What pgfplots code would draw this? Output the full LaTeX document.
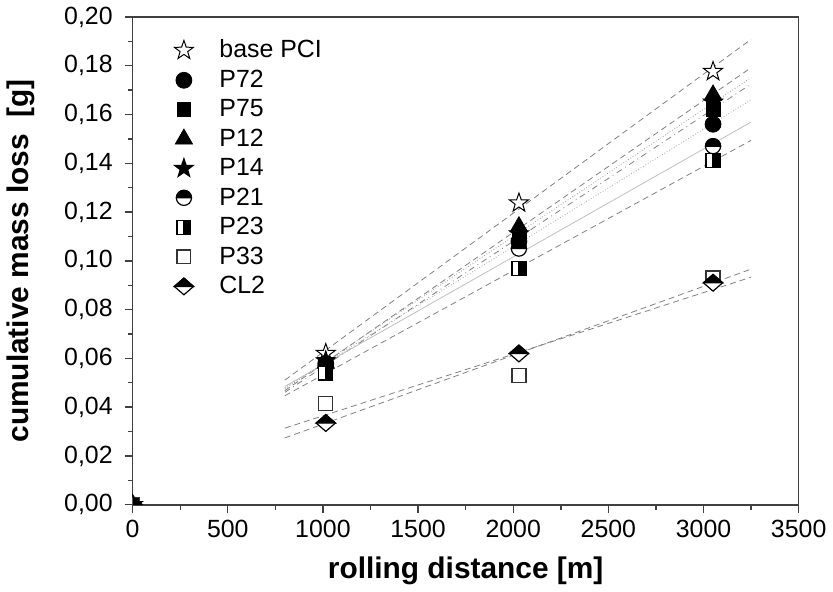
\documentclass[border=0pt]{standalone}
\usepackage{fontspec}
\setmainfont{Liberation Sans}
\usepackage{pgfplots}
\pgfplotsset{compat=1.18}
\usetikzlibrary{plotmarks}

% five-pointed star
\pgfdeclareplotmark{pstar}{%
  \pgfpathmoveto{\pgfpointpolar{90}{1.25\pgfplotmarksize}}%
  \pgfpathlineto{\pgfpointpolar{126}{0.5\pgfplotmarksize}}%
  \pgfpathlineto{\pgfpointpolar{162}{1.25\pgfplotmarksize}}%
  \pgfpathlineto{\pgfpointpolar{198}{0.5\pgfplotmarksize}}%
  \pgfpathlineto{\pgfpointpolar{234}{1.25\pgfplotmarksize}}%
  \pgfpathlineto{\pgfpointpolar{270}{0.5\pgfplotmarksize}}%
  \pgfpathlineto{\pgfpointpolar{306}{1.25\pgfplotmarksize}}%
  \pgfpathlineto{\pgfpointpolar{342}{0.5\pgfplotmarksize}}%
  \pgfpathlineto{\pgfpointpolar{18}{1.25\pgfplotmarksize}}%
  \pgfpathlineto{\pgfpointpolar{54}{0.5\pgfplotmarksize}}%
  \pgfpathclose
  \pgfusepathqfillstroke
}
% half filled marks
\pgfdeclareplotmark{halfcircle}{%
  \pgfsetfillcolor{white}%
  \pgfpathcircle{\pgfpointorigin}{\pgfplotmarksize}%
  \pgfusepathqfillstroke
  \pgfsetfillcolor{black}%
  \pgfpathmoveto{\pgfqpoint{\pgfplotmarksize}{0pt}}%
  \pgfpatharc{0}{180}{\pgfplotmarksize}%
  \pgfpathclose
  \pgfusepathqfillstroke
}
\pgfdeclareplotmark{halfsquare}{%
  \pgfsetfillcolor{white}%
  \pgfpathrectanglecorners{\pgfqpoint{-\pgfplotmarksize}{-\pgfplotmarksize}}{\pgfqpoint{\pgfplotmarksize}{\pgfplotmarksize}}%
  \pgfusepathqfillstroke
  \pgfsetfillcolor{black}%
  \pgfpathrectanglecorners{\pgfqpoint{0pt}{-\pgfplotmarksize}}{\pgfqpoint{\pgfplotmarksize}{\pgfplotmarksize}}%
  \pgfusepathqfillstroke
}
\pgfdeclareplotmark{halfdiamond}{%
  \pgfsetfillcolor{white}%
  \pgfpathmoveto{\pgfqpoint{1.15\pgfplotmarksize}{0pt}}%
  \pgfpathlineto{\pgfqpoint{0pt}{\pgfplotmarksize}}%
  \pgfpathlineto{\pgfqpoint{-1.15\pgfplotmarksize}{0pt}}%
  \pgfpathlineto{\pgfqpoint{0pt}{-\pgfplotmarksize}}%
  \pgfpathclose
  \pgfusepathqfillstroke
  \pgfsetfillcolor{black}%
  \pgfpathmoveto{\pgfqpoint{1.15\pgfplotmarksize}{0pt}}%
  \pgfpathlineto{\pgfqpoint{0pt}{\pgfplotmarksize}}%
  \pgfpathlineto{\pgfqpoint{-1.15\pgfplotmarksize}{0pt}}%
  \pgfpathclose
  \pgfusepathqfillstroke
}

\begin{document}
\begin{tikzpicture}
  \begin{axis}[
    width = 334.5pt,
    height = 245pt,
    scale only axis,
    xmin=0, xmax=3500, ymin=0, ymax=0.2,
    xtick={0,500,...,3500},
    ytick={0,0.02,...,0.2},
    minor tick num=1,
    xtick pos=left, ytick pos=left,
    tick align=outside,
    major tick length=4pt,
    minor tick length=2.5pt,
    axis line style={line width=0.8pt, black!75},
    every tick/.style={line width=0.7pt, black!75},
    clip marker paths=true,
    x tick label style={/pgf/number format/1000 sep={}},
    y tick label style={xshift=-2.5pt, /pgf/number format/.cd, fixed, fixed zerofill, precision=2, use comma},
    /pgf/number format/assume math mode=true,
    tick label style={font=\fontsize{12.5}{14}\selectfont},
    xlabel = {\textbf{rolling distance [m]}},
    ylabel = {\textbf{cumulative mass loss\ \ [g]}},
    label style={font=\fontsize{15}{18}\selectfont},
    xlabel style={yshift=-3pt},
    ylabel style={yshift=8pt},
    legend style={draw=none, fill=none, at={(0.053,0.97)}, anchor=north west,
      font=\fontsize{12.5}{14}\selectfont, row sep=0.6pt},
    legend cell align=left,
    /tikz/every odd column/.append style={column sep=11pt},
  ]

  % linear fits (end points read off the picture)
  \addplot[forget plot, gray, densely dashed, thin] coordinates {(800,0.0511) (3250,0.1908)};
  \addplot[forget plot, gray!70, densely dotted, thin] coordinates {(800,0.0480) (3250,0.1660)};
  \addplot[forget plot, gray, dash dot, thin] coordinates {(800,0.0461) (3250,0.1725)};
  \addplot[forget plot, gray, densely dashed, thin] coordinates {(800,0.0468) (3250,0.1792)};
  \addplot[forget plot, gray!80, densely dotted, thin] coordinates {(800,0.0475) (3250,0.1751)};
  \addplot[forget plot, gray!50, thin] coordinates {(800,0.0485) (3250,0.1569)};
  \addplot[forget plot, gray, densely dashed, thin] coordinates {(800,0.0447) (3250,0.1494)};
  \addplot[forget plot, gray, densely dashed, thin] coordinates {(800,0.0314) (3250,0.0933)};
  \addplot[forget plot, gray, densely dashed, thin] coordinates {(800,0.0274) (3250,0.0966)};

  \addplot[only marks, mark=pstar, mark size=4pt, mark options={fill=white, draw=black, line width=0.5pt}]
    coordinates {(0,0) (1015,0.062) (2030,0.1237) (3050,0.1776)};
  \addlegendentry{base PCI}
  \addplot[only marks, mark=*, mark size=4pt, mark options={fill=black, draw=black}]
    coordinates {(0,0) (1015,0.058) (2030,0.108) (3050,0.156)};
  \addlegendentry{P72}
  \addplot[only marks, mark=square*, mark size=3.5pt, mark options={fill=black, draw=black}]
    coordinates {(0,0) (1015,0.057) (2030,0.110) (3050,0.162)};
  \addlegendentry{P75}
  \addplot[only marks, mark=triangle*, mark size=5pt, mark options={fill=black, draw=black}]
    coordinates {(0,0) (1015,0.058) (2030,0.114) (3050,0.168)};
  \addlegendentry{P12}
  \addplot[only marks, mark=pstar, mark size=4pt, mark options={fill=black, draw=black, line width=0.5pt}]
    coordinates {(0,0) (1015,0.059) (2030,0.111) (3050,0.165)};
  \addlegendentry{P14}
  \addplot[only marks, mark=halfcircle, mark size=3.8pt, mark options={draw=black, line width=0.6pt}]
    coordinates {(0,0) (1015,0.057) (2030,0.105) (3050,0.147)};
  \addlegendentry{P21}
  \addplot[only marks, mark=halfsquare, mark size=3.5pt, mark options={draw=black, line width=0.6pt}]
    coordinates {(0,0) (1015,0.054) (2030,0.097) (3050,0.141)};
  \addlegendentry{P23}
  \addplot[only marks, mark=square, mark size=3.5pt, mark options={fill=white, draw=black!80, line width=0.6pt}]
    coordinates {(0,0) (1015,0.0416) (2030,0.053) (3050,0.093)};
  \addlegendentry{P33}
  \addplot[only marks, mark=halfdiamond, mark size=4.2pt, mark options={draw=black, line width=0.6pt}]
    coordinates {(0,0) (1015,0.0335) (2030,0.062) (3050,0.091)};
  \addlegendentry{CL2}

  \end{axis}
\end{tikzpicture}
\end{document}
